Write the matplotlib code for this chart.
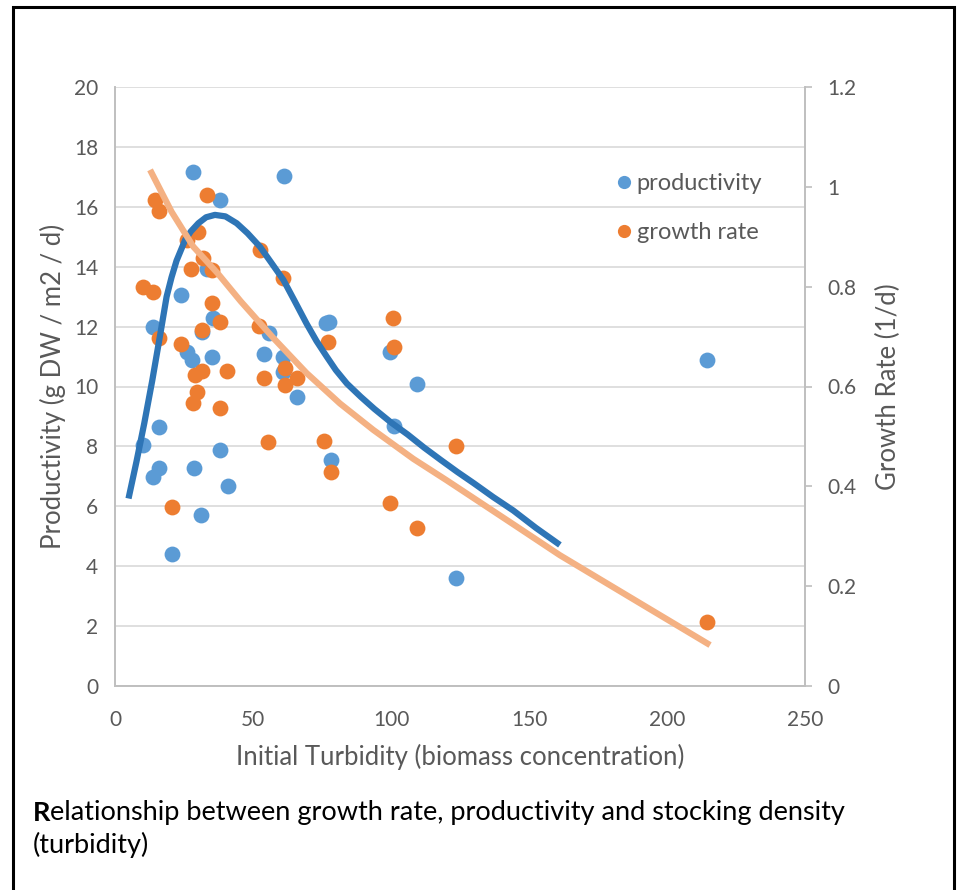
import numpy as np
import matplotlib.pyplot as plt
from matplotlib.lines import Line2D
from matplotlib.patches import Rectangle

plt.rcParams['font.family'] = ['Lato', 'DejaVu Sans']

# productivity (left axis)
prod_x = [28.4, 61.2, 38.0, 23.9, 35.6, 13.9, 31.4, 55.8, 26.0, 27.8, 35.0, 54.1, 61.0, 61.0, 65.8, 76.4, 77.6,
          99.6, 109.3, 101.1, 78.2, 16.1, 10.3, 38.0, 16.1, 13.7, 28.6, 40.8, 31.1, 20.5, 123.4, 214.4, 33.2]
prod_y = [17.17, 17.03, 16.23, 13.06, 12.29, 11.97, 11.81, 11.80, 11.16, 10.88, 10.99, 11.09, 11.0, 10.49, 9.64, 12.11, 12.16,
          11.14, 10.08, 8.68, 7.55, 8.64, 8.05, 7.88, 7.29, 6.99, 7.29, 6.69, 5.71, 4.41, 3.62, 10.88, 13.92]

# growth rate (right axis)
gr_x = [14.5, 16.1, 33.2, 30.1, 26.0, 52.5, 31.9, 27.5, 35.0, 60.9, 10.1, 13.7, 35.0, 38.0, 31.4, 52.3, 15.9, 23.9, 77.3, 29.0,
        31.4, 40.7, 54.1, 61.6, 65.8, 61.6, 29.6, 28.4, 38.0, 100.6, 101.1, 55.6, 75.8, 78.2, 123.4, 20.5, 99.6, 109.3, 214.4]
gr_y = [0.974, 0.952, 0.984, 0.910, 0.894, 0.873, 0.857, 0.835, 0.833, 0.817, 0.800, 0.790, 0.767, 0.729, 0.713, 0.721, 0.697,
        0.686, 0.689, 0.623, 0.632, 0.632, 0.618, 0.638, 0.618, 0.604, 0.588, 0.566, 0.556, 0.737, 0.680, 0.489, 0.491, 0.429,
        0.481, 0.359, 0.367, 0.317, 0.129]

# trend lines
prod_trend_x = [4.9, 7.8, 10.6, 13.5, 16.5, 18.7, 20.5, 22.3, 25.4, 27.5, 30.2, 33, 36.2, 40, 44.1, 48, 52.5, 56.5, 61, 65,
                69.4, 73, 76.7, 80, 84, 89, 94, 100, 106, 112, 118, 124, 130, 137, 144.3, 152.5, 161.2]
prod_trend_y = [6.26, 7.5, 8.77, 10.2, 11.8, 13.0, 13.65, 14.2, 14.89, 15.18, 15.45, 15.65, 15.73, 15.68, 15.45, 15.12, 14.67,
                14.15, 13.56, 12.87, 12.1, 11.52, 11.0, 10.55, 10.1, 9.66, 9.25, 8.8, 8.4, 7.96, 7.55, 7.15, 6.77, 6.31,
                5.86, 5.28, 4.71]
gr_trend_x = [12.7, 20.5, 28.4, 37, 45.5, 57.4, 69.4, 81.5, 93.6, 108.1, 120.2, 144.3, 161.2, 192.6, 215.6]
gr_trend_y = [1.034, 0.95, 0.880, 0.828, 0.771, 0.697, 0.627, 0.566, 0.513, 0.455, 0.412, 0.324, 0.262, 0.158, 0.082]

blue = '#5B9BD5'
orange = '#ED7D31'
txt = '#595959'
axc = '#BFBFBF'

fig = plt.figure(figsize=(9.62, 8.90), dpi=100)
ax = fig.add_axes([115/962, 1-686/890, 690/962, 599/890])
ax2 = ax.twinx()

ax.scatter(prod_x, prod_y, s=130, color=blue, linewidths=0, zorder=2)
ax2.scatter(gr_x, gr_y, s=130, color=orange, linewidths=0, zorder=2)
# blue trend drawn above the orange markers
ax2.plot(prod_trend_x, prod_trend_y, color='#2E75B6', lw=4.5, solid_capstyle='butt', solid_joinstyle='round',
         transform=ax.transData, zorder=3)
ax2.plot(gr_trend_x, gr_trend_y, color='#F4B183', lw=4.5, solid_capstyle='butt', solid_joinstyle='round', zorder=4)

ax.set_xlim(0, 250)
ax.set_ylim(0, 20)
ax2.set_ylim(0, 1.2)
ax.set_xticks(np.arange(0, 251, 50))
ax.set_yticks(np.arange(0, 21, 2))
ax2.set_yticks([0, 0.2, 0.4, 0.6, 0.8, 1, 1.2])
ax2.set_yticklabels(['0', '0.2', '0.4', '0.6', '0.8', '1', '1.2'])

ax.grid(axis='y', color='#D9D9D9', lw=1.2)
ax.set_axisbelow(True)
for a in (ax, ax2):
    a.spines['top'].set_visible(False)
    for s in ('left', 'right', 'bottom'):
        a.spines[s].set_color(axc)
        a.spines[s].set_linewidth(1.2)
ax.tick_params(axis='x', length=0, labelsize=15, labelcolor=txt, pad=17)
ax.tick_params(axis='y', length=0, labelsize=15, labelcolor=txt, pad=12)
ax2.tick_params(axis='y', length=5, width=1.2, color=axc, labelsize=15, labelcolor=txt, pad=11)

ax.set_xlabel('Initial Turbidity (biomass concentration)', fontsize=18.5, color=txt, labelpad=10)
ax.set_ylabel('Productivity (g DW / m2 / d)', fontsize=18.5, color=txt, labelpad=6)
ax2.set_ylabel('Growth Rate (1/d)', fontsize=18.5, color=txt, labelpad=14)

handles = [Line2D([], [], marker='o', ls='', color=blue, markersize=9.5, markeredgewidth=0),
           Line2D([], [], marker='o', ls='', color=orange, markersize=9.5, markeredgewidth=0)]
ax2.legend(handles, ['productivity', 'growth rate'], loc='upper left', bbox_to_anchor=(600/962, 1-161/890),
           bbox_transform=fig.transFigure, frameon=False, fontsize=17, labelcolor=txt,
           handletextpad=0.05, handlelength=1.0, labelspacing=1.2, borderpad=0)

# caption below the chart
t1 = fig.text(33/962, 1-821/890, 'R', fontsize=19.5, fontweight='bold', color='black', va='baseline')
ax.annotate('elationship between growth rate, productivity and stocking density', xy=(1, 0), xycoords=t1,
            va='bottom', ha='left', fontsize=19.5, color='black', annotation_clip=False)
fig.text(33/962, 1-853/890, '(turbidity)', fontsize=19.5, color='black', va='baseline')

# frame around the figure
fig.add_artist(Rectangle((13/962, -0.1), (954-13)/962, 1.1 - 7/890, transform=fig.transFigure,
                         fill=False, edgecolor='black', lw=2.2))

fig.savefig('out.png', dpi=100)
